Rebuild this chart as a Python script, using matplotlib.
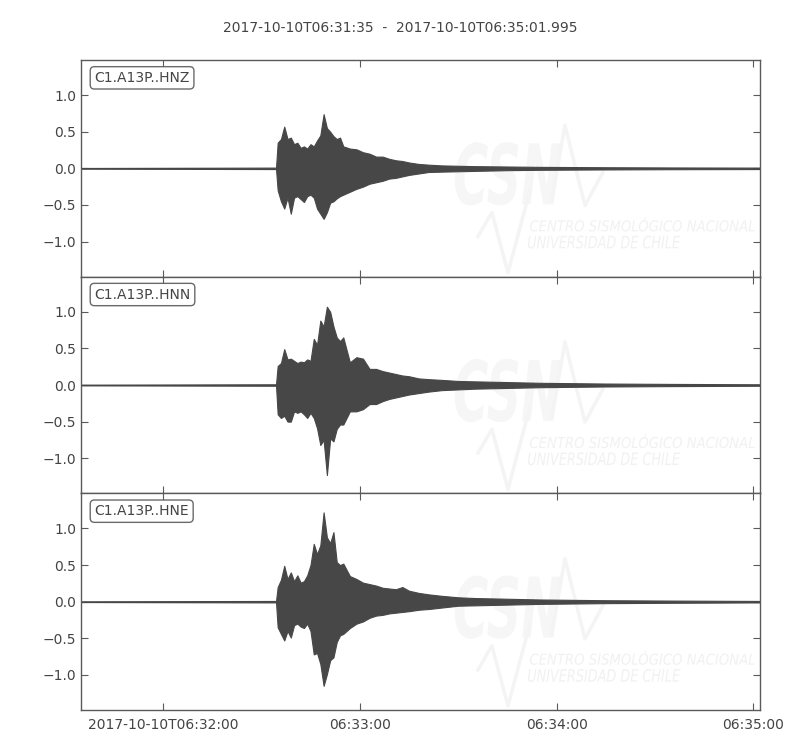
import numpy as np
import matplotlib
matplotlib.use("Agg")
import matplotlib.pyplot as plt
from matplotlib.textpath import TextPath
from matplotlib.patches import PathPatch
from matplotlib.font_manager import FontProperties
from matplotlib.transforms import Affine2D

# --- data: envelopes (seconds after 06:31:35) ---
t_sec = [0, 59.5, 60, 61, 62, 63, 64, 65, 66, 67, 68, 69, 70, 71, 72, 73, 74, 75,
         76, 77, 78, 79, 80, 82, 84, 86, 88, 90, 92, 94, 96, 98, 100, 103, 106,
         110, 115, 120, 130, 140, 160, 180, 206.995]

hnz_upper = [0.005, 0.01, 0.35, 0.40, 0.57, 0.40, 0.42, 0.33, 0.35, 0.28, 0.30, 0.27,
             0.33, 0.30, 0.38, 0.45, 0.74, 0.55, 0.50, 0.44, 0.40, 0.42, 0.30, 0.27,
             0.26, 0.22, 0.20, 0.16, 0.16, 0.13, 0.11, 0.10, 0.08, 0.06, 0.05, 0.04,
             0.035, 0.03, 0.025, 0.02, 0.015, 0.012, 0.01]
hnz_lower = [-0.005, -0.01, -0.30, -0.45, -0.55, -0.40, -0.62, -0.40, -0.38, -0.42,
             -0.46, -0.38, -0.36, -0.40, -0.55, -0.62, -0.69, -0.60, -0.47, -0.45,
             -0.41, -0.38, -0.36, -0.32, -0.28, -0.25, -0.21, -0.19, -0.17, -0.14,
             -0.13, -0.11, -0.09, -0.07, -0.05, -0.045, -0.04, -0.035, -0.025, -0.02,
             -0.015, -0.012, -0.01]

hnn_upper = [0.005, 0.01, 0.26, 0.30, 0.49, 0.35, 0.36, 0.33, 0.30, 0.32, 0.31, 0.35,
             0.33, 0.63, 0.55, 0.88, 0.80, 1.07, 1.00, 0.80, 0.65, 0.60, 0.65, 0.31,
             0.38, 0.36, 0.22, 0.22, 0.19, 0.17, 0.15, 0.13, 0.12, 0.09, 0.08, 0.07,
             0.055, 0.05, 0.04, 0.03, 0.02, 0.015, 0.01]
hnn_lower = [-0.005, -0.01, -0.40, -0.45, -0.42, -0.50, -0.50, -0.36, -0.38, -0.36,
             -0.40, -0.45, -0.38, -0.45, -0.59, -0.82, -0.75, -1.23, -0.73, -0.77,
             -0.60, -0.54, -0.54, -0.36, -0.36, -0.33, -0.26, -0.26, -0.22, -0.19,
             -0.17, -0.15, -0.13, -0.11, -0.09, -0.07, -0.06, -0.05, -0.04, -0.03,
             -0.02, -0.015, -0.01]

hne_upper = [0.005, 0.01, 0.20, 0.30, 0.49, 0.31, 0.40, 0.28, 0.36, 0.26, 0.28, 0.36,
             0.50, 0.79, 0.65, 0.77, 1.22, 0.88, 0.80, 0.95, 0.54, 0.50, 0.52, 0.35,
             0.31, 0.26, 0.24, 0.22, 0.19, 0.18, 0.17, 0.20, 0.15, 0.12, 0.10, 0.08,
             0.06, 0.05, 0.04, 0.03, 0.02, 0.015, 0.01]
hne_lower = [-0.005, -0.01, -0.35, -0.44, -0.53, -0.40, -0.49, -0.32, -0.30, -0.34,
             -0.36, -0.30, -0.40, -0.72, -0.70, -0.85, -1.15, -0.99, -0.80, -0.76,
             -0.55, -0.46, -0.44, -0.36, -0.30, -0.27, -0.22, -0.19, -0.18, -0.16,
             -0.15, -0.14, -0.13, -0.11, -0.10, -0.08, -0.055, -0.05, -0.04, -0.03,
             -0.02, -0.015, -0.01]

channels = ["C1.A13P..HNZ", "C1.A13P..HNN", "C1.A13P..HNE"]
uppers = [hnz_upper, hnn_upper, hne_upper]
lowers = [hnz_lower, hnn_lower, hne_lower]

xtick_sec = [25, 85, 145, 205]
xtick_labels = ["2017-10-10T06:32:00", "06:33:00", "06:34:00", "06:35:00"]
ytick_vals = [-1.0, -0.5, 0.0, 0.5, 1.0]
title = "2017-10-10T06:31:35  -  2017-10-10T06:35:01.995"

WAVE = "#474747"
TXT = "#444444"
EDGE = "#5a5a5a"


def stamp(ax, s, x0, y0, w, h, color, weight="normal", style="italic"):
    # text fitted into a box given in axes fraction (watermark)
    prop = FontProperties(family="DejaVu Sans", weight=weight, style=style)
    tp = TextPath((0, 0), s, size=1, prop=prop)
    ext = tp.get_extents()
    tr = (Affine2D().translate(-ext.x0, -ext.y0)
          .scale(w / ext.width, h / ext.height).translate(x0, y0))
    patch = PathPatch(tr.transform_path(tp), transform=ax.transAxes,
                      facecolor=color, edgecolor="none", zorder=0)
    ax.add_patch(patch)


def px(x, y):
    # panel pixel position -> axes fraction (panel 679 x 216 px)
    return (x - 81) / 679.0, 1 - (y - 60) / 216.0


fig, axes = plt.subplots(3, 1, figsize=(8, 7.5), dpi=100, sharex=True)
fig.subplots_adjust(left=0.101, right=0.95, top=0.92, bottom=0.0533, hspace=0)

for ax, name, up, lo in zip(axes, channels, uppers, lowers):
    # watermark
    stamp(ax, "CSN", *px(455, 205), 0.155, 0.292, "#f6f6f6", weight="bold")
    stamp(ax, "CENTRO SISMOLÓGICO NACIONAL", *px(530, 231), 0.331, 0.065, "#f1f1f1")
    stamp(ax, "UNIVERSIDAD DE CHILE", *px(528, 248), 0.224, 0.06, "#f1f1f1")
    for pts in ([(478, 236), (492, 212), (508, 272), (530, 190)],
                [(552, 200), (565, 125), (585, 205), (603, 172)]):
        xs, ys = zip(*[px(a, b) for a, b in pts])
        ax.plot(xs, ys, transform=ax.transAxes, color="#f4f4f4", lw=2.5, zorder=0)

    ax.fill_between(t_sec, lo, up, color=WAVE, edgecolor=WAVE, linewidth=0.8, zorder=2)

    ax.set_xlim(0, 206.995)
    ax.set_ylim(-1.48, 1.48)
    ax.set_yticks(ytick_vals)
    ax.set_yticklabels(["\u22121.0", "\u22120.5", "0.0", "0.5", "1.0"])
    ax.tick_params(direction="in", top=True, right=True, length=5, width=0.8,
                   colors=EDGE, labelcolor=TXT, labelsize=10)
    for sp in ax.spines.values():
        sp.set_color(EDGE)
        sp.set_linewidth(1.0)
    ax.text(0.02, 0.95, name, transform=ax.transAxes, ha="left", va="top",
            fontsize=10, color=TXT, zorder=5,
            bbox=dict(boxstyle="round", fc="w", ec=EDGE, alpha=0.9))

axes[-1].set_xticks(xtick_sec)
axes[-1].set_xticklabels(xtick_labels)
axes[-1].tick_params(axis="x", pad=6)

fig.suptitle(title, y=0.972, fontsize=10, color=TXT)

fig.savefig("out.png", dpi=100)
